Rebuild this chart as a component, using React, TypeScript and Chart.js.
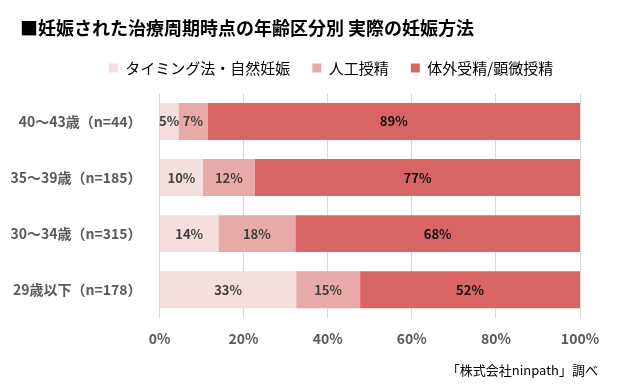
import React, { useEffect, useRef } from 'react';
import { Chart, registerables } from 'chart.js';

Chart.register(...registerables);

const FONT = "'Noto Sans CJK JP', 'Noto Sans', sans-serif";

const titleText = '■妊娠された治療周期時点の年齢区分別 実際の妊娠方法';
const sourceText = '「株式会社ninpath」調べ';
const categories = ['40～43歳（n=44）', '35～39歳（n=185）', '30～34歳（n=315）', '29歳以下（n=178）'];
const seriesNames = ['タイミング法・自然妊娠', '人工授精', '体外受精/顕微授精'];
const timingValues = [4.5, 10.3, 14.0, 32.5];
const aiValues = [6.9, 12.4, 18.3, 15.2];
const ivfValues = [88.6, 77.3, 67.7, 52.3];
const xTickValues = [0, 20, 40, 60, 80, 100];

const seriesColors = ['#F4DEDE', '#E8A9A9', '#D96464'];
const labelColors = ['#404040', '#404040', '#111111'];

const barLabels = {
  id: 'barLabels',
  afterDatasetsDraw(chart: any) {
    const ctx = chart.ctx;
    ctx.save();
    ctx.font = `bold 13px ${FONT}`;
    ctx.textAlign = 'center';
    ctx.textBaseline = 'middle';
    chart.data.datasets.forEach((ds: any, di: number) => {
      const meta = chart.getDatasetMeta(di);
      meta.data.forEach((el: any, i: number) => {
        const v = ds.data[i];
        const p = el.getProps(['x', 'y', 'base'], true);
        ctx.fillStyle = labelColors[di];
        ctx.fillText(Math.round(v) + '%', (p.x + p.base) / 2, p.y);
      });
    });
    ctx.restore();
  },
};

const blockShift = {
  id: 'blockShift',
  afterLayout(chart: any) {
    const lg = chart.legend;
    if (lg) {
      const dx = 331 - (lg.left + lg.right) / 2;
      lg.left += dx;
      lg.right += dx;
    }
    const tb = chart.titleBlock;
    if (tb) {
      const tx = 20 - tb.left;
      tb.left += tx;
      tb.right += tx;
    }
  },
};

export default function App() {
  const ref = useRef<HTMLCanvasElement | null>(null);

  useEffect(() => {
    document.body.style.margin = '0';
    const canvas = ref.current;
    if (!canvas) return;
    const chart = new Chart(canvas, {
      type: 'bar',
      data: {
        labels: categories,
        datasets: [
          { label: seriesNames[0], data: timingValues, backgroundColor: seriesColors[0], borderWidth: 0 },
          { label: seriesNames[1], data: aiValues, backgroundColor: seriesColors[1], borderWidth: 0 },
          { label: seriesNames[2], data: ivfValues, backgroundColor: seriesColors[2], borderWidth: 0 },
        ],
      },
      options: {
        indexAxis: 'y',
        responsive: false,
        animation: false,
        events: [],
        datasets: { bar: { barPercentage: 0.66, categoryPercentage: 1 } },
        layout: { padding: { left: 4, right: 41, top: 0, bottom: 12 } },
        scales: {
          x: {
            type: 'linear',
            stacked: true,
            min: xTickValues[0],
            max: xTickValues[xTickValues.length - 1],
            afterBuildTicks: (s: any) => {
              s.ticks = xTickValues.map((v) => ({ value: v }));
            },
            grid: { color: '#D9D9D9', lineWidth: 1, drawTicks: false },
            border: { display: false },
            ticks: {
              padding: 13,
              color: '#595959',
              font: { family: FONT, size: 14, weight: 'bold' },
              callback: (v: any) => v + '%',
            },
            afterFit: (s: any) => {
              s.height = 44.7;
            },
          },
          y: {
            type: 'category',
            stacked: true,
            grid: { display: false, drawTicks: false },
            border: { display: false },
            ticks: {
              padding: 18,
              color: '#595959',
              font: { family: FONT, size: 14, weight: 'bold' },
            },
            afterFit: (s: any) => {
              s.width = 155.5;
            },
          },
          xTop: {
            type: 'linear',
            axis: 'x',
            position: 'top',
            grid: { display: false, drawTicks: false },
            border: { display: false },
            ticks: { display: false },
            afterFit: (s: any) => {
              s.height = 7.9;
            },
          },
          yRight: {
            type: 'linear',
            axis: 'y',
            position: 'right',
            grid: { display: false, drawTicks: false },
            border: { display: false },
            ticks: { display: false },
            afterFit: (s: any) => {
              s.width = 18;
            },
          },
        },
        plugins: {
          title: {
            display: true,
            text: titleText,
            align: 'start',
            color: '#000000',
            font: { family: FONT, size: 18, weight: 'bold', lineHeight: 1.2 },
            padding: { top: 17, bottom: 0 },
          },
          legend: {
            display: true,
            position: 'top',
            align: 'center',
            labels: {
              boxWidth: 9,
              boxHeight: 9,
              padding: 22,
              color: '#000000',
              font: { family: FONT, size: 15 },
            },
          },
          subtitle: {
            display: true,
            position: 'bottom',
            align: 'end',
            text: sourceText,
            color: '#000000',
            font: { family: FONT, size: 13, weight: 'normal', lineHeight: 1.2 },
            padding: { top: 0, bottom: 0 },
          },
          tooltip: { enabled: false },
        },
      } as any,
      plugins: [barLabels, blockShift],
    });
    return () => chart.destroy();
  }, []);

  return (
    <div style={{ width: 639, height: 390 }}>
      <canvas ref={ref} width={639} height={390} style={{ display: 'block' }} />
    </div>
  );
}
